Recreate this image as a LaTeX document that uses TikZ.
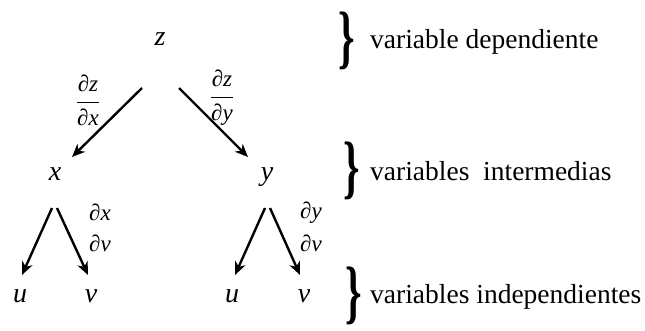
\documentclass[tikz,border=0pt]{standalone}
\usepackage{fontspec}
\usepackage{graphicx}
\setmainfont{Liberation Serif}
\usetikzlibrary{arrows.meta,calc}
\begin{document}
\begin{tikzpicture}[x=1pt,y=-1pt,
  var/.style={inner sep=0pt,anchor=base,font=\fontsize{28}{30}\selectfont\itshape},
  lab/.style={inner sep=0pt,font=\fontsize{23}{26}\selectfont\itshape},
  txt/.style={inner sep=0pt,anchor=base west,font=\fontsize{27.5}{30}\selectfont},
  brc/.style={inner sep=0pt,font=\fontsize{70}{70}\selectfont\bfseries},
  arr/.style={line width=2.4pt,-{Stealth[length=13pt,width=11pt,inset=4pt]}}]
\useasboundingbox (0,0) rectangle (645,330);
% variables
\node[var] (z) at (160,45) {z};
\node[var] (x) at (55,180) {x};
\node[var] (y) at (267,180) {y};
\node[var] (u1) at (20,302) {u};
\node[var] (v1) at (91,302) {v};
\node[var] (u2) at (232,302) {u};
\node[var] (v2) at (304,302) {v};
% arrows
\draw[arr] ($(z.base)+(-18,43)$) -- ($(x.base)+(17,-23)$);
\draw[arr] ($(z.base)+(19,43)$) -- ($(y.base)+(-19,-23)$);
\draw[arr] ($(x.base)+(-3,28)$) -- ($(u1.base)+(2,-27)$);
\draw[arr] ($(x.base)+(2,28)$) -- ($(v1.base)+(-3,-27)$);
\draw[arr] ($(y.base)+(-2,28)$) -- ($(u2.base)+(3,-27)$);
\draw[arr] ($(y.base)+(3,28)$) -- ($(v2.base)+(-4,-27)$);
% derivative labels
\node[lab] (dzdx) at (88,100) {$\displaystyle\frac{\mbox{\itshape ∂z}}{\mbox{\itshape ∂x}}$};
\node[lab] (dzdy) at (222,98) {$\displaystyle\frac{\mbox{\itshape ∂z}}{\mbox{\itshape ∂y}}$};
\node[lab] (dx) at (100,212) {∂x};
\node[lab] (dv1) at (100,243) {∂v};
\node[lab] (dy) at (311,213) {∂y};
\node[lab] (dv2) at (311,243) {∂v};
% braces
\node[brc] (b1) at (347,41) {\scalebox{0.6}[1]{\}}};
\node[brc] (b2) at (352,171) {\scalebox{0.6}[1]{\}}};
\node[brc] (b3) at (354,296) {\scalebox{0.6}[1]{\}}};
% texts
\node[txt] (t1) at (370,48) {variable dependiente};
\node[txt] (t2) at (370,180) {variables\ \ intermedias};
\node[txt] (t3) at (370,303) {variables independientes};
\end{tikzpicture}
\end{document}
